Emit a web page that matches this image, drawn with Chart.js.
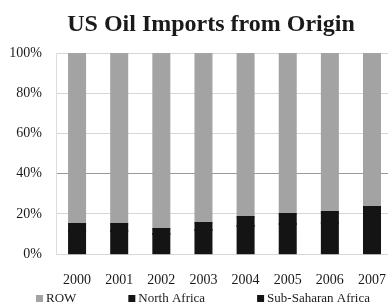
<!DOCTYPE html>
<html lang="en">
<head>
  <meta charset="UTF-8" />
  <title>US Oil Imports from Origin</title>
  <script src="https://cdn.jsdelivr.net/npm/chart.js"></script>
  <style>
    html, body { margin: 0; padding: 0; background: #fff; overflow: hidden; }
    #wrap { width: 396px; height: 305px; }
  </style>
</head>
<body>
<div id="wrap"><canvas id="chart"></canvas></div>
<script>
// data (percent of total imports)
const years = ['2000','2001','2002','2003','2004','2005','2006','2007'];
const subSaharan = [11.5, 11.5, 10, 12, 14, 15, 15.5, 17.5];
const northAfrica = [3.5, 3.5, 2.5, 3.5, 4.5, 5, 5.5, 6];
const row = [85, 85, 87.5, 84.5, 81.5, 80, 79, 76.5];
const yTicks = [0, 20, 40, 60, 80, 100];

const serif = "'Liberation Serif', 'DejaVu Serif', serif";
const ink = '#1a1a1a';
const titleText = 'US Oil Imports from Origin';

// title sits a bit left of the plot centre, legend is spread out excel style
const excelText = {
  id: 'excelText',
  afterDraw(chart) {
    const ctx = chart.ctx;
    ctx.save();
    ctx.fillStyle = ink;
    ctx.font = 'bold 24px ' + serif;
    ctx.textAlign = 'center';
    ctx.textBaseline = 'middle';
    ctx.fillText(titleText, 211, 25);

    ctx.font = '13px ' + serif;
    ctx.textAlign = 'left';
    const sets = chart.data.datasets.slice().reverse();
    let x = chart.chartArea.left - 20;
    const y = chart.height - 6;
    sets.forEach(ds => {
      ctx.fillStyle = ds.backgroundColor;
      ctx.fillRect(x, y - 4, 7, 7);
      ctx.fillStyle = ink;
      ctx.fillText(ds.label, x + 10, y);
      x += 10 + ctx.measureText(ds.label).width + 52;
    });
    ctx.restore();
  }
};

new Chart(document.getElementById('chart'), {
  type: 'bar',
  data: {
    labels: years,
    datasets: [
      { label: 'Sub-Saharan Africa', data: subSaharan, backgroundColor: '#141414' },
      { label: 'North Africa', data: northAfrica, backgroundColor: '#141414' },
      { label: 'ROW', data: row, backgroundColor: '#a3a3a3' }
    ]
  },
  plugins: [excelText],
  options: {
    responsive: true,
    maintainAspectRatio: false,
    animation: false,
    datasets: { bar: { barPercentage: 0.38, categoryPercentage: 1, inflateAmount: 1 } },
    layout: { padding: { left: 0, right: 0, top: 53, bottom: 6 } },
    plugins: {
      title: { display: false },
      legend: { display: false },
      tooltip: { enabled: false }
    },
    scales: {
      x: {
        stacked: true,
        grid: { display: false },
        border: { color: '#d8d8d8' },
        ticks: { color: ink, font: { family: serif, size: 14 }, padding: 10 }
      },
      y: {
        stacked: true,
        min: 0,
        max: 100,
        afterBuildTicks: s => { s.ticks = yTicks.map(v => ({ value: v })); },
        afterFit: s => { s.width = 56; },
        grid: {
          color: c => c.tick && c.tick.value === 40 ? '#9a9a9a' : '#d6d6d6',
          drawTicks: false
        },
        border: { color: '#dcdcdc' },
        ticks: {
          color: ink,
          autoSkip: false,
          font: { family: serif, size: 14 },
          padding: 14,
          callback: v => v + '%'
        }
      }
    }
  }
});
</script>
</body>
</html>
